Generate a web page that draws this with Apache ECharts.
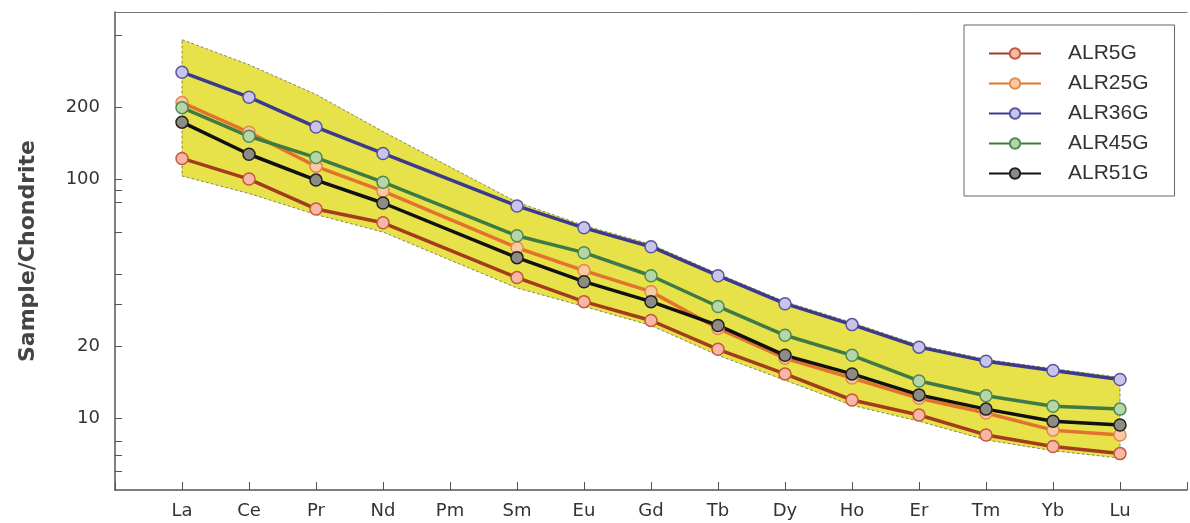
<!DOCTYPE html>
<html>
<head>
<meta charset="utf-8">
<style>
  html, body { margin: 0; padding: 0; background: #ffffff; }
  #chart { width: 1190px; height: 523px; }
</style>
<script src="https://cdn.jsdelivr.net/npm/echarts@6/dist/echarts.min.js"></script>
</head>
<body>
<div id="chart"></div>
<script>
// ---- data (chondrite-normalised REE) ----
const elements = ['La','Ce','Pr','Nd','Pm','Sm','Eu','Gd','Tb','Dy','Ho','Er','Tm','Yb','Lu'];
const ALR5G  = [122, 100, 75, 65.6, null, 38.7, 30.7, 25.6, 19.4, 15.3, 11.9, 10.3, 8.5, 7.6, 7.1];
const ALR25G = [209, 157, 113, 89, null, 51.6, 41.4, 33.8, 23.7, 17.8, 14.7, 12.1, 10.5, 8.9, 8.5];
const ALR36G = [280, 220, 165, 128, null, 77.2, 62.5, 52.1, 39.4, 30.1, 24.6, 19.8, 17.3, 15.8, 14.5];
const ALR45G = [199, 151, 123, 97, null, 57.9, 49.2, 39.4, 29.3, 22.2, 18.3, 14.3, 12.4, 11.2, 10.9];
const ALR51G = [173, 127, 99, 79.4, null, 46.9, 37.2, 30.7, 24.4, 18.3, 15.3, 12.5, 10.9, 9.7, 9.35];
// envelope (yellow field)
const bandUpper = [383, 301, 226, 158, null, 80, 64, 53.3, 40.2, 30.7, 25.1, 20.2, 17.6, 16.1, 14.8];
const bandLower = [103, 87, 71, 60, null, 35, 29.3, 24.4, 18.3, 14.4, 11.3, 9.7, 8.1, 7.3, 6.8];
// y-axis ticks and labels
const yLabelValues = [200, 100, 20, 10];
const yTickValues = [400, 200, 100, 90, 80, 60, 40, 30, 20, 10, 8, 7, 6];

const seriesDefs = [
  { name: 'ALR5G',  data: ALR5G,  line: '#a33c1c', fill: '#f6b7a6', border: '#c4583a' },
  { name: 'ALR25G', data: ALR25G, line: '#e2722c', fill: '#f8c9a2', border: '#e28a50' },
  { name: 'ALR36G', data: ALR36G, line: '#3b3a8e', fill: '#c9c5ea', border: '#5656a2' },
  { name: 'ALR45G', data: ALR45G, line: '#3d7a44', fill: '#b7d6a8', border: '#4f8a52' },
  { name: 'ALR51G', data: ALR51G, line: '#111111', fill: '#8c8c84', border: '#222222' }
];

function pairs(arr) {
  const out = [];
  arr.forEach((v, i) => { if (v != null) out.push([i, v]); });
  return out;
}

const chart = echarts.init(document.getElementById('chart'));

const series = [{
  type: 'custom',
  name: 'field',
  silent: true,
  z: 1,
  xAxisIndex: 0,
  yAxisIndex: 0,
  data: [[0, 100]],
  renderItem: function (params, api) {
    const pts = [];
    bandUpper.forEach((v, i) => { if (v != null) pts.push(api.coord([i, v])); });
    for (let i = bandLower.length - 1; i >= 0; i--) {
      if (bandLower[i] != null) pts.push(api.coord([i, bandLower[i]]));
    }
    return {
      type: 'polygon',
      shape: { points: pts },
      style: { fill: '#e8e24a', stroke: 'rgba(90,90,60,0.7)', lineWidth: 1, lineDash: [3, 2] }
    };
  }
}];

seriesDefs.forEach(s => {
  series.push({
    type: 'line',
    name: s.name,
    xAxisIndex: 0,
    yAxisIndex: 0,
    data: pairs(s.data),
    symbol: 'circle',
    symbolSize: 12,
    z: 3,
    lineStyle: { color: s.line, width: 3.5 },
    itemStyle: { color: s.fill, borderColor: s.border, borderWidth: 1.5 },
    emphasis: { disabled: true }
  });
});

const option = {
  animation: false,
  backgroundColor: '#ffffff',
  grid: { left: 115, right: 0, top: 12, bottom: 33 },
  legend: {
    orient: 'vertical',
    left: 964,
    top: 25,
    padding: [18, 26, 12, 24],
    itemWidth: 52,
    itemHeight: 13,
    itemGap: 9,
    borderColor: '#666',
    borderWidth: 1,
    data: seriesDefs.map(s => s.name),
    textStyle: { fontFamily: 'Liberation Sans', fontSize: 21, color: '#333', padding: [0, 0, 0, 22] }
  },
  xAxis: [{
    type: 'value',
    min: -1,
    max: 15,
    interval: 1,
    position: 'bottom',
    z: 5,
    splitLine: { show: false },
    axisLine: { show: true, onZero: false, lineStyle: { color: '#555', width: 1.5 } },
    axisTick: { show: true, inside: true, length: 8, lineStyle: { color: '#555' } },
    axisLabel: {
      margin: 12,
      fontFamily: 'DejaVu Sans',
      fontSize: 18,
      color: '#333',
      formatter: function (v) { return elements[v] || ''; }
    }
  }, {
    type: 'value',
    min: -1,
    max: 15,
    position: 'top',
    splitLine: { show: false },
    axisLine: { show: true, onZero: false, lineStyle: { color: '#777', width: 1 } },
    axisTick: { show: false },
    axisLabel: { show: false }
  }],
  yAxis: [{
    type: 'log',
    logBase: 10,
    min: 5,
    max: 500,
    position: 'left',
    splitLine: { show: false },
    axisLine: { show: true, onZero: false, lineStyle: { color: '#555', width: 1.5 } },
    axisTick: { show: false },
    axisLabel: { show: false }
  }, {
    type: 'value',
    min: Math.log10(5),
    max: Math.log10(500),
    position: 'left',
    splitLine: { show: false },
    axisLine: { show: false, onZero: false },
    axisTick: {
      show: true, inside: true, length: 7,
      customValues: yTickValues.map(v => Math.log10(v)),
      lineStyle: { color: '#555' }
    },
    axisLabel: {
      margin: 15,
      fontFamily: 'DejaVu Sans',
      fontSize: 18,
      color: '#333',
      customValues: yLabelValues.map(v => Math.log10(v)),
      formatter: function (v) { return String(Math.round(Math.pow(10, v))); }
    },
    name: 'Sample/Chondrite',
    nameLocation: 'middle',
    nameGap: 76,
    nameTextStyle: { fontFamily: 'DejaVu Sans', fontSize: 22, fontWeight: 'bold', color: '#444' }
  }],
  series: series
};

chart.setOption(option);
</script>
</body>
</html>
